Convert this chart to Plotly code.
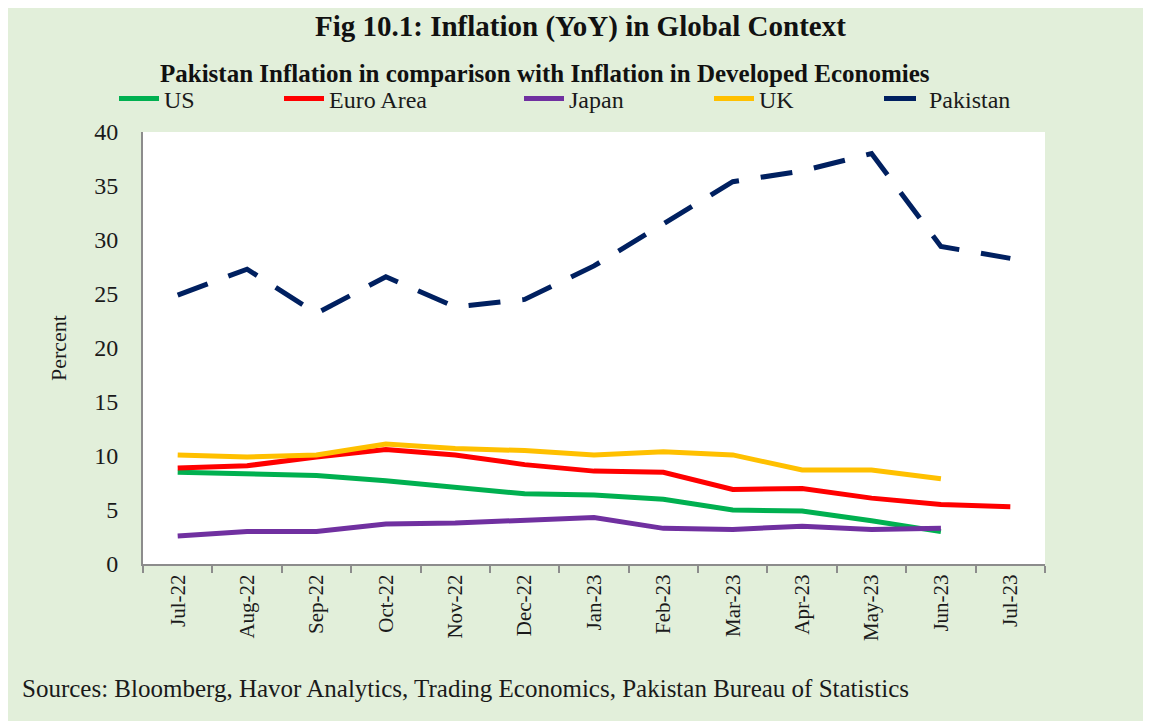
import plotly.graph_objects as go

months = ["Jul-22", "Aug-22", "Sep-22", "Oct-22", "Nov-22", "Dec-22", "Jan-23",
          "Feb-23", "Mar-23", "Apr-23", "May-23", "Jun-23", "Jul-23"]

us = [8.5, 8.3, 8.2, 7.7, 7.1, 6.5, 6.4, 6.0, 5.0, 4.9, 4.0, 3.0, None]
euro = [8.9, 9.1, 9.9, 10.6, 10.1, 9.2, 8.6, 8.5, 6.9, 7.0, 6.1, 5.5, 5.3]
japan = [2.6, 3.0, 3.0, 3.7, 3.8, 4.0, 4.3, 3.3, 3.2, 3.5, 3.2, 3.3, None]
uk = [10.1, 9.9, 10.1, 11.1, 10.7, 10.5, 10.1, 10.4, 10.1, 8.7, 8.7, 7.9, None]
pakistan = [24.9, 27.3, 23.2, 26.6, 23.8, 24.5, 27.6, 31.5, 35.4, 36.4, 38.0, 29.4, 28.3]

series = [
    ("US", us, "#00B050", "solid"),
    ("Euro Area", euro, "#FF0000", "solid"),
    ("Japan", japan, "#7030A0", "solid"),
    ("UK", uk, "#FFC000", "solid"),
    ("Pakistan", pakistan, "#002060", "32px,22px"),
]
legend_x_px = [112, 277, 517, 707, 877]

FONT = "Liberation Serif"
BG = "#E2EFDA"
W, H = 1151, 721
L, R, T, B = 135, 114, 124, 165
PW, PH = W - L - R, H - T - B

fig = go.Figure()
legend_layout = {}
for i, (name, vals, color, dash) in enumerate(series):
    lg = "legend" if i == 0 else f"legend{i + 1}"
    fig.add_trace(go.Scatter(
        x=months, y=vals, name=name, mode="lines",
        line=dict(color=color, width=5, dash=dash),
        connectgaps=False, hoverinfo="skip", legend=lg,
    ))
    legend_layout[lg] = dict(
        orientation="h", xref="container", yref="container",
        x=(legend_x_px[i] - 6) / W, y=1 - 91 / H, xanchor="left", yanchor="middle",
        font=dict(family=FONT, size=24, color="#1a1a1a"),
        bgcolor="rgba(0,0,0,0)", itemwidth=40,
    )

fig.update_layout(
    width=W, height=H,
    paper_bgcolor=BG, plot_bgcolor="white",
    margin=dict(l=L, r=R, t=T, b=B, autoexpand=False),
    font=dict(family=FONT, color="#1a1a1a"),
    showlegend=True,
    **legend_layout,
    annotations=[
        dict(text="<b>Fig 10.1: Inflation (YoY) in Global Context</b>",
             xref="paper", yref="paper", x=(572 - L) / PW, y=1 + (T - 19) / PH,
             xanchor="center", yanchor="middle",
             showarrow=False, font=dict(family=FONT, size=29, color="#111")),
        dict(text="<b>Pakistan Inflation in comparison with Inflation in Developed Economies</b>",
             xref="paper", yref="paper", x=(537 - L) / PW, y=1 + (T - 65) / PH,
             xanchor="center", yanchor="middle",
             showarrow=False, font=dict(family=FONT, size=25, color="#111")),
        dict(text="Sources: Bloomberg, Havor Analytics, Trading Economics, Pakistan Bureau of Statistics",
             xref="paper", yref="paper", x=(12 - L) / PW, y=-(680 - (T + PH)) / PH,
             xanchor="left", yanchor="middle",
             showarrow=False, font=dict(family=FONT, size=25, color="#1a1a1a")),
    ],
)

fig.update_xaxes(
    type="category", range=[-0.5, 12.5],
    showline=True, linecolor="#8c8c8c", linewidth=2,
    ticks="outside", tickson="boundaries", ticklen=7, tickcolor="#8c8c8c", tickwidth=2,
    tickangle=-90, showgrid=False,
    tickfont=dict(family=FONT, size=21, color="#1a1a1a"),
)
fig.update_yaxes(
    range=[0, 40], dtick=5, showgrid=False,
    showline=True, linecolor="#8c8c8c", linewidth=2,
    ticks="", zeroline=False, ticklabelstandoff=18,
    tickfont=dict(family=FONT, size=24, color="#1a1a1a"),
    title=dict(text="Percent", font=dict(family=FONT, size=22, color="#1a1a1a"), standoff=22),
)

fig.write_html("out.html")
